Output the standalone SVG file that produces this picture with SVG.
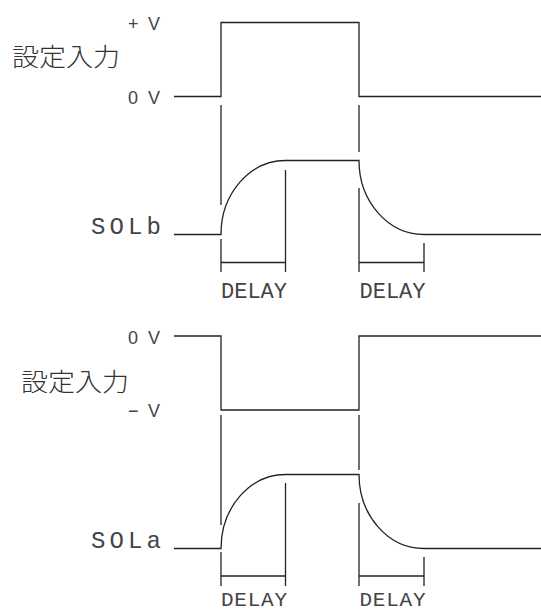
<svg xmlns="http://www.w3.org/2000/svg" width="541" height="613" viewBox="0 0 541 613">
<style>
.w{fill:none;stroke:#222;stroke-width:1.3;stroke-linecap:butt}
.m{font-family:"Liberation Mono","DejaVu Sans Mono",monospace;fill:#444}
.v{font-family:"Liberation Sans","DejaVu Sans",sans-serif;font-size:18px;fill:#444}
.j{font-family:"Noto Sans CJK JP","Noto Sans CJK SC",sans-serif;font-size:25px;font-weight:300;fill:#333}
</style>
<rect width="541" height="613" fill="#fff"/>
<g id="top-input">
<text class="j" x="12" y="66" textLength="108" lengthAdjust="spacingAndGlyphs">設定入力</text>
<text class="v" x="128" y="29.5" textLength="32" lengthAdjust="spacing">+V</text>
<text class="v" x="128" y="103.5" textLength="32" lengthAdjust="spacing">0V</text>
<polyline class="w" points="174,96.5 221,96.5 221,22.5 359,22.5 359,96.5 541,96.5"/>
</g>
<g id="top-solb">
<text class="m" x="91" y="233.5" font-size="24" textLength="70" lengthAdjust="spacing">SOLb</text>
<path class="w" d="M174,234.5 H221 A64.5 74 0 0 1 285.5,160.5 H359 A65 74 0 0 0 424,234.5 H541"/>
</g>
<g id="top-delay">
<text class="m" x="221" y="297.5" font-size="22" textLength="66" lengthAdjust="spacing">DELAY</text>
<text class="m" x="359.5" y="297.5" font-size="22" textLength="66" lengthAdjust="spacing">DELAY</text>
</g>
<g id="connectors-top">
<line class="w" x1="221" y1="105" x2="221" y2="205"/>
<line class="w" x1="359" y1="105" x2="359" y2="152"/>
<line class="w" x1="285.5" y1="170" x2="285.5" y2="272"/>
<line class="w" x1="359" y1="188" x2="359" y2="272"/>
<line class="w" x1="221" y1="239" x2="221" y2="272"/>
<line class="w" x1="424" y1="243" x2="424" y2="272"/>
<line class="w" x1="221" y1="262.5" x2="285.5" y2="262.5"/>
<line class="w" x1="359" y1="262.5" x2="424" y2="262.5"/>
</g>
<g id="bottom-input">
<text class="j" x="21" y="391" textLength="108" lengthAdjust="spacingAndGlyphs">設定入力</text>
<text class="v" x="128" y="343.5" textLength="32" lengthAdjust="spacing">0V</text>
<text class="v" x="128" y="417" textLength="32" lengthAdjust="spacing">−V</text>
<polyline class="w" points="174,336 221,336 221,410 359,410 359,336 541,336"/>
</g>
<g id="bottom-sola">
<text class="m" x="91" y="548" font-size="24" textLength="70" lengthAdjust="spacing">SOLa</text>
<path class="w" d="M174,548.5 H221 A64.5 74 0 0 1 285.5,474.5 H359 A65 74 0 0 0 424,548.5 H541"/>
</g>
<g id="bottom-delay">
<text class="m" x="221" y="606" font-size="21" textLength="66" lengthAdjust="spacing">DELAY</text>
<text class="m" x="359.5" y="606" font-size="21" textLength="66" lengthAdjust="spacing">DELAY</text>
</g>
<g id="connectors-bottom">
<line class="w" x1="221" y1="415" x2="221" y2="525"/>
<line class="w" x1="359" y1="415" x2="359" y2="470"/>
<line class="w" x1="285.5" y1="483" x2="285.5" y2="586"/>
<line class="w" x1="359" y1="503" x2="359" y2="586"/>
<line class="w" x1="221" y1="552" x2="221" y2="586"/>
<line class="w" x1="424" y1="557" x2="424" y2="586"/>
<line class="w" x1="221" y1="576" x2="285.5" y2="576"/>
<line class="w" x1="359" y1="576" x2="424" y2="576"/>
</g>
</svg>
